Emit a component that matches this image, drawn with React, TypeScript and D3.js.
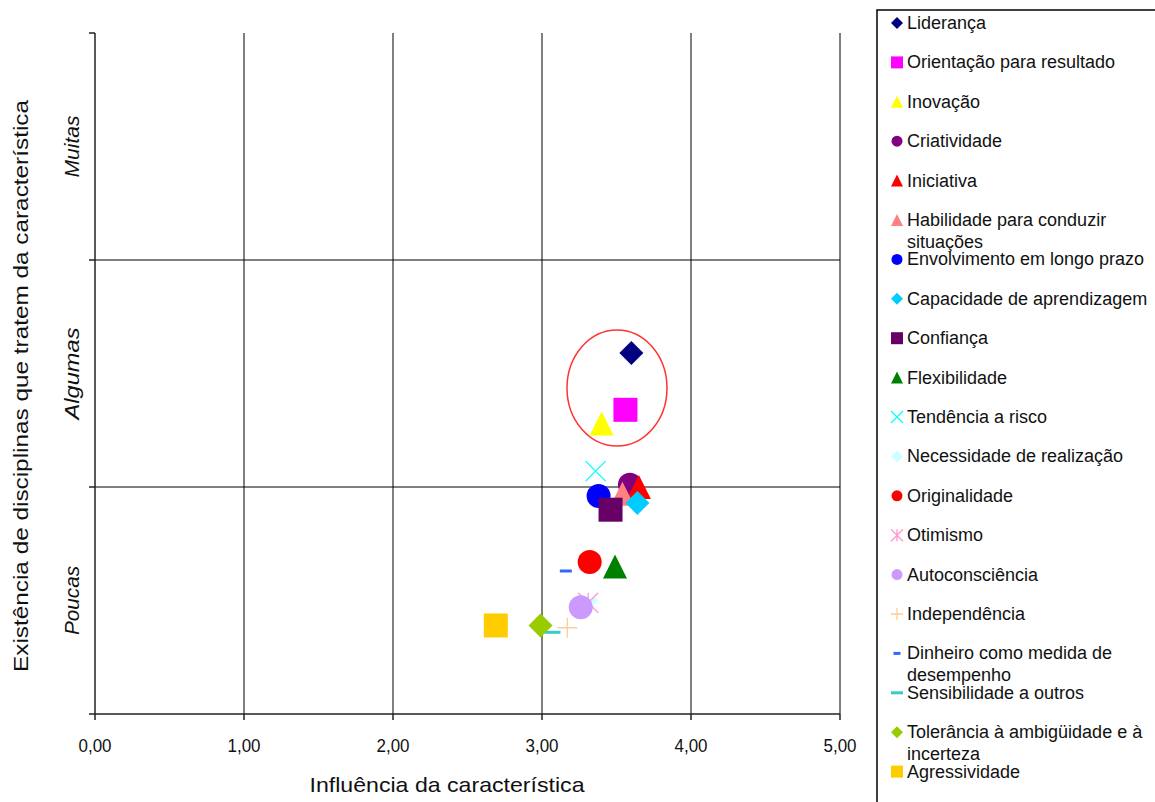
import React from 'react';
import * as d3 from 'd3';

// values
const names = [
  'Liderança',
  'Orientação para resultado',
  'Inovação',
  'Criatividade',
  'Iniciativa',
  'Habilidade para conduzir situações',
  'Envolvimento em longo prazo',
  'Capacidade de aprendizagem',
  'Confiança',
  'Flexibilidade',
  'Tendência a risco',
  'Necessidade de realização',
  'Originalidade',
  'Otimismo',
  'Autoconsciência',
  'Independência',
  'Dinheiro como medida de desempenho',
  'Sensibilidade a outros',
  'Tolerância à ambigüidade e à incerteza',
  'Agressividade',
];
const legendLines = [
  ['Liderança'],
  ['Orientação para resultado'],
  ['Inovação'],
  ['Criatividade'],
  ['Iniciativa'],
  ['Habilidade para conduzir', 'situações'],
  ['Envolvimento em longo prazo'],
  ['Capacidade de aprendizagem'],
  ['Confiança'],
  ['Flexibilidade'],
  ['Tendência a risco'],
  ['Necessidade de realização'],
  ['Originalidade'],
  ['Otimismo'],
  ['Autoconsciência'],
  ['Independência'],
  ['Dinheiro como medida de', 'desempenho'],
  ['Sensibilidade a outros'],
  ['Tolerância à ambigüidade e à', 'incerteza'],
  ['Agressividade'],
];
const influence = [3.6, 3.56, 3.4, 3.59, 3.65, 3.54, 3.38, 3.64, 3.46, 3.49, 3.36, 3.35, 3.32, 3.31, 3.26, 3.17, 3.16, 3.07, 2.99, 2.69];
const existence = [1.59, 1.34, 1.28, 1.01, 1.0, 0.97, 0.96, 0.93, 0.9, 0.65, 1.07, 0.5, 0.67, 0.49, 0.47, 0.38, 0.63, 0.36, 0.39, 0.39];
const colors = [
  '#000080', '#FF00FF', '#FFFF00', '#800080', '#FF0000', '#FF8080', '#0000FF', '#00CCFF', '#660066', '#008000',
  '#00FFFF', '#CCFFFF', '#FF0000', '#FF99CC', '#CC99FF', '#FFCC99', '#3366FF', '#33CCCC', '#99CC00', '#FFCC00',
];
const markers = [
  'diamond', 'square', 'triangle', 'circle', 'triangle', 'triangle', 'circle', 'diamond', 'square', 'triangle',
  'x', 'diamond', 'circle', 'star', 'circle', 'plus', 'dash', 'dash', 'diamond', 'square',
];
const xTicks = [0, 1, 2, 3, 4, 5];
const yTicks = [0, 1, 2, 3];
const bandLabels = ['Poucas', 'Algumas', 'Muitas'];
const bandLabelLengths = [69, 92, 62];

const W = 1155;
const H = 802;
const plot = { left: 95, right: 840, top: 33, bottom: 714 };
const font = "'Liberation Sans', Arial, sans-serif";

function markerPath(type: string, s: number): string {
  const h = s / 2;
  switch (type) {
    case 'diamond':
      return `M0,${-h}L${h},0L0,${h}L${-h},0Z`;
    case 'square':
      return `M${-h},${-h}H${h}V${h}H${-h}Z`;
    case 'triangle':
      return `M0,${-h}L${h},${h}L${-h},${h}Z`;
    case 'x':
      return `M${-h},${-h}L${h},${h}M${h},${-h}L${-h},${h}`;
    case 'plus':
      return `M${-h},0H${h}M0,${-h}V${h}`;
    case 'star':
      return `M${-h},${-h}L${h},${h}M${h},${-h}L${-h},${h}M0,${-h}V${h}`;
    case 'dash':
      return `M${-h},0H${h}`;
    default:
      return '';
  }
}

function Marker({ type, color, size, x, y }: { type: string; color: string; size: number; x: number; y: number }) {
  if (type === 'circle') {
    return <circle cx={x} cy={y} r={size / 2} fill={color} />;
  }
  const stroked = type === 'x' || type === 'plus' || type === 'star' || type === 'dash';
  return (
    <path
      transform={`translate(${x},${y})`}
      d={markerPath(type, size)}
      fill={stroked ? 'none' : color}
      stroke={stroked ? color : 'none'}
      strokeWidth={type === 'dash' ? 3 : 1.3}
    />
  );
}

export default function App() {
  const x = d3.scaleLinear().domain([0, 5]).range([plot.left, plot.right]);
  const y = d3.scaleLinear().domain([0, 3]).range([plot.bottom, plot.top]);

  const plotSize = (i: number) => {
    const t = markers[i];
    if (t === 'dash') return i === 16 ? 12 : 16;
    if (t === 'x' || t === 'plus' || t === 'star') return 20;
    if (i === 11) return 8;
    return 24;
  };

  const legendY0 = 23;
  const legendStep = 39.4;

  return (
    <div style={{ position: 'absolute', left: 0, top: 0 }}>
      <svg width={W} height={H} style={{ display: 'block', background: '#fff' }}>
        {/* gridlines */}
        {xTicks.slice(1).map((t) => (
          <line key={'gx' + t} x1={x(t)} x2={x(t)} y1={plot.top} y2={plot.bottom} stroke="#000" strokeWidth={1} />
        ))}
        {yTicks.slice(1, -1).map((t) => (
          <line key={'gy' + t} x1={plot.left} x2={plot.right} y1={y(t)} y2={y(t)} stroke="#000" strokeWidth={1} />
        ))}
        {/* axes */}
        <line x1={plot.left} x2={plot.left} y1={plot.top} y2={plot.bottom} stroke="#222" strokeWidth={1.5} />
        <line x1={plot.left} x2={plot.right} y1={plot.bottom} y2={plot.bottom} stroke="#222" strokeWidth={1.5} />
        {yTicks.map((t) => (
          <line key={'ty' + t} x1={plot.left - 6} x2={plot.left} y1={y(t)} y2={y(t)} stroke="#222" strokeWidth={1.5} />
        ))}
        {xTicks.map((t) => (
          <g key={'tx' + t}>
            <line x1={x(t)} x2={x(t)} y1={plot.bottom} y2={plot.bottom + 6} stroke="#222" strokeWidth={1.5} />
            <text
              x={x(t)}
              y={plot.bottom + 38}
              textAnchor="middle"
              fontFamily={font}
              fontSize={18}
              textLength={33}
              lengthAdjust="spacingAndGlyphs"
              fill="#111"
            >
              {d3.format('.2f')(t).replace('.', ',')}
            </text>
          </g>
        ))}
        {bandLabels.map((l, i) => (
          <text
            key={l}
            transform={`translate(79,${y(i + 0.5)}) rotate(-90)`}
            textAnchor="middle"
            fontFamily={font}
            fontStyle="italic"
            fontSize={21}
            textLength={bandLabelLengths[i]}
            lengthAdjust="spacingAndGlyphs"
            fill="#111"
          >
            {l}
          </text>
        ))}
        <text
          x={447}
          y={792}
          textAnchor="middle"
          fontFamily={font}
          fontSize={21}
          textLength={275}
          lengthAdjust="spacingAndGlyphs"
          fill="#111"
        >
          Influência da característica
        </text>
        <text
          transform={`translate(28,${386}) rotate(-90)`}
          textAnchor="middle"
          fontFamily={font}
          fontSize={21}
          textLength={572}
          lengthAdjust="spacingAndGlyphs"
          fill="#111"
        >
          Existência de disciplinas que tratem da característica
        </text>

        {/* highlight ellipse */}
        <ellipse cx={617} cy={388} rx={50} ry={58} fill="none" stroke="#FF3333" strokeWidth={1.5} />

        {/* points */}
        {names.map((n, i) => (
          <Marker key={n} type={markers[i]} color={colors[i]} size={plotSize(i)} x={x(influence[i])} y={y(existence[i])} />
        ))}

        {/* legend */}
        <rect x={877} y={10} width={320} height={820} fill="none" stroke="#000" strokeWidth={1.5} />
        {names.map((n, i) => {
          const ly = legendY0 + i * legendStep;
          const t = markers[i];
          const s = t === 'dash' ? (i === 16 ? 7 : 12) : t === 'circle' ? 11 : 12;
          return (
            <g key={'lg' + n}>
              <Marker type={t} color={colors[i]} size={s} x={897} y={ly} />
              <text x={907} y={ly + 6} fontFamily={font} fontSize={18} fill="#111">
                {legendLines[i].map((line, k) => (
                  <tspan key={k} x={907} dy={k === 0 ? 0 : 22}>
                    {line}
                  </tspan>
                ))}
              </text>
            </g>
          );
        })}
      </svg>
    </div>
  );
}
